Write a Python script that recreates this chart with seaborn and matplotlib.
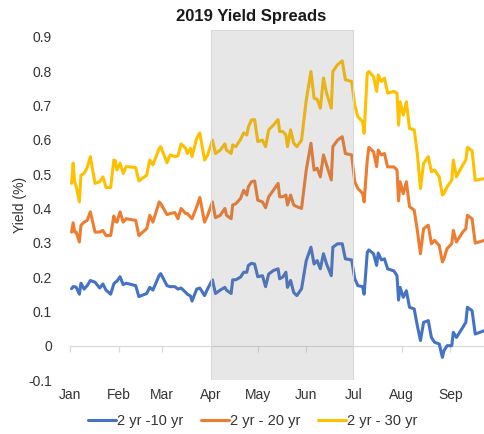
import matplotlib
matplotlib.use("Agg")
import matplotlib.pyplot as plt
import matplotlib.dates as mdates
from matplotlib.ticker import FuncFormatter
import pandas as pd
import seaborn as sns

# ---------------- data ----------------
dates = [
    "01-02", "01-03", "01-04", "01-05", "01-07", "01-08", "01-10", "01-12", "01-14", "01-17",
    "01-20", "01-22", "01-24", "01-27", "01-29", "01-30", "01-31", "02-02", "02-04", "02-06",
    "02-12", "02-14", "02-19", "02-21", "02-23", "02-27", "02-28", "03-04", "03-06", "03-09",
    "03-11", "03-13", "03-16", "03-17", "03-19", "03-20", "03-23", "03-25",
    "03-28", "03-30", "04-02", "04-04", "04-07", "04-10", "04-11", "04-14", "04-15", "04-17",
    "04-20", "04-22", "04-24", "04-25", "04-27", "04-29", "05-01", "05-04", "05-06", "05-08",
    "05-11", "05-14", "05-15", "05-17", "05-19", "05-20", "05-22", "05-24", "05-26", "05-29",
    "06-01", "06-04", "06-06", "06-08", "06-10", "06-12", "06-14", "06-17", "06-18", "06-21",
    "06-24",
    "06-26", "06-30", "07-02", "07-04", "07-07", "07-08", "07-10", "07-11", "07-14", "07-16",
    "07-17", "07-19",
    "07-21", "07-23", "07-27", "07-29", "07-30", "07-31", "08-02", "08-04", "08-06", "08-09",
    "08-11", "08-13", "08-15", "08-18", "08-20", "08-22", "08-25", "08-27", "08-28", "08-30",
    "09-02", "09-03", "09-05", "09-09", "09-11", "09-12", "09-15", "09-17", "09-23",
]

spread_2_10 = [
    0.166, 0.172, 0.172, 0.170, 0.150, 0.182, 0.165, 0.175, 0.190, 0.185,
    0.168, 0.180, 0.162, 0.150, 0.180, 0.185, 0.188, 0.201, 0.178, 0.182,
    0.175, 0.143, 0.152, 0.170, 0.162, 0.205, 0.210, 0.175, 0.172, 0.172,
    0.165, 0.168, 0.155, 0.150, 0.145, 0.130, 0.165, 0.168,
    0.146, 0.166, 0.192, 0.152, 0.162, 0.170, 0.162, 0.152, 0.192, 0.192,
    0.200, 0.214, 0.214, 0.234, 0.240, 0.238, 0.201, 0.204, 0.172, 0.209,
    0.219, 0.224, 0.195, 0.200, 0.214, 0.170, 0.190, 0.155, 0.146, 0.166,
    0.248, 0.287, 0.238, 0.248, 0.224, 0.268, 0.238, 0.204, 0.287, 0.297,
    0.297,
    0.253, 0.250, 0.195, 0.175, 0.172, 0.150, 0.272, 0.279, 0.268, 0.234,
    0.270, 0.250,
    0.253, 0.224, 0.218, 0.204, 0.133, 0.170, 0.141, 0.160, 0.112, 0.107,
    0.058, 0.015, 0.068, 0.073, 0.024, 0.010, 0.005, -0.034, -0.015, 0.000,
    0.000, 0.039, 0.024, 0.053, 0.068, 0.112, 0.102, 0.034, 0.044,
]

spread_2_20 = [
    0.331, 0.358, 0.331, 0.331, 0.302, 0.351, 0.360, 0.365, 0.390, 0.331,
    0.331, 0.336, 0.321, 0.321, 0.378, 0.363, 0.360, 0.390, 0.360, 0.370,
    0.365, 0.321, 0.341, 0.380, 0.360, 0.419, 0.414, 0.382, 0.385, 0.388,
    0.370, 0.400, 0.385, 0.385, 0.375, 0.370, 0.405, 0.432,
    0.360, 0.380, 0.419, 0.373, 0.380, 0.400, 0.380, 0.370, 0.410, 0.414,
    0.429, 0.453, 0.439, 0.463, 0.478, 0.480, 0.424, 0.419, 0.402, 0.434,
    0.453, 0.473, 0.434, 0.434, 0.439, 0.410, 0.439, 0.410, 0.405, 0.400,
    0.512, 0.590, 0.512, 0.517, 0.492, 0.556, 0.527, 0.483, 0.580, 0.599,
    0.609,
    0.560, 0.556, 0.478, 0.458, 0.444, 0.419, 0.541, 0.578, 0.565, 0.522,
    0.570, 0.556,
    0.560, 0.521, 0.521, 0.512, 0.422, 0.478, 0.443, 0.478, 0.405, 0.395,
    0.336, 0.268, 0.341, 0.351, 0.297, 0.307, 0.292, 0.244, 0.253, 0.283,
    0.297, 0.336, 0.302, 0.331, 0.341, 0.380, 0.370, 0.299, 0.307,
]

spread_2_30 = [
    0.473, 0.532, 0.478, 0.463, 0.419, 0.497, 0.502, 0.519, 0.551, 0.473,
    0.478, 0.492, 0.461, 0.461, 0.541, 0.539, 0.512, 0.532, 0.502, 0.522,
    0.519, 0.480, 0.497, 0.541, 0.527, 0.575, 0.580, 0.533, 0.556, 0.551,
    0.553, 0.588, 0.575, 0.560, 0.575, 0.551, 0.605, 0.620,
    0.541, 0.556, 0.599, 0.560, 0.570, 0.588, 0.570, 0.560, 0.585, 0.580,
    0.601, 0.620, 0.614, 0.637, 0.658, 0.659, 0.595, 0.599, 0.580, 0.629,
    0.643, 0.659, 0.624, 0.624, 0.614, 0.580, 0.629, 0.590, 0.580, 0.599,
    0.716, 0.799, 0.721, 0.718, 0.692, 0.780, 0.736, 0.692, 0.799, 0.819,
    0.830,
    0.775, 0.770, 0.702, 0.667, 0.653, 0.619, 0.794, 0.799, 0.784, 0.741,
    0.789, 0.770,
    0.780, 0.736, 0.741, 0.736, 0.643, 0.711, 0.672, 0.711, 0.633, 0.629,
    0.560, 0.458, 0.531, 0.551, 0.507, 0.512, 0.492, 0.439, 0.443, 0.463,
    0.482, 0.541, 0.492, 0.526, 0.541, 0.578, 0.568, 0.482, 0.487,
]

series_names = ["2 yr -10 yr", "2 yr - 20 yr", "2 yr - 30 yr"]
colors = ["#4472C4", "#ED7D31", "#FFC000"]
shade_start, shade_end = "2019-04-01", "2019-07-01"
y_ticks = [-0.1, 0, 0.1, 0.2, 0.3, 0.4, 0.5, 0.6, 0.7, 0.8, 0.9]

# ---------------- build table ----------------
df = pd.DataFrame({
    "date": pd.to_datetime(["2019-" + d for d in dates]),
    series_names[0]: spread_2_10,
    series_names[1]: spread_2_20,
    series_names[2]: spread_2_30,
})
long = df.melt(id_vars="date", var_name="series", value_name="yield")

# ---------------- style ----------------
sns.set_theme(style="white")
plt.rcParams["font.family"] = ["Liberation Sans", "DejaVu Sans"]
text_col = "#333333"

fig = plt.figure(figsize=(4.85, 4.34), dpi=100)
ax = fig.add_axes([70 / 485, 1 - 380 / 434, 1 - 70 / 485, 350 / 434])

sns.lineplot(data=long, x="date", y="yield", hue="series", hue_order=series_names,
             palette=colors, linewidth=2.2, ax=ax, zorder=2)
handles, labels = ax.get_legend_handles_labels()
ax.get_legend().remove()

ax.axvspan(pd.Timestamp(shade_start), pd.Timestamp(shade_end),
           facecolor=(0.5, 0.5, 0.5, 0.19), edgecolor=(0.85, 0.85, 0.85, 1.0),
           linewidth=0.8, zorder=3)

ax.set_xlim(pd.Timestamp("2019-01-01"), pd.Timestamp("2019-09-23 06:00"))
ax.set_ylim(-0.1, 0.92)

# y axis
ax.set_yticks(y_ticks)
ax.yaxis.set_major_formatter(FuncFormatter(lambda v, p: f"{round(v, 3):g}"))
ax.tick_params(axis="y", length=0, pad=13, labelsize=10, labelcolor=text_col)
ax.set_ylabel("Yield (%)", fontsize=10, color=text_col, labelpad=1)
ax.set_xlabel("")

for s in ["left", "right", "top"]:
    ax.spines[s].set_visible(False)

# horizontal axis line at zero with month tick marks
ax.spines["bottom"].set_position(("data", 0))
ax.spines["bottom"].set_color("#D9D9D9")
ax.spines["bottom"].set_linewidth(0.9)
ax.spines["bottom"].set_zorder(1)
ax.xaxis.set_major_locator(mdates.MonthLocator())
ax.tick_params(axis="x", direction="out", length=4, width=0.9, color="#D9D9D9",
               labelbottom=False, bottom=True)

# month labels at the bottom of the plot area
sec = ax.secondary_xaxis("bottom")
sec.xaxis.set_major_locator(mdates.MonthLocator())
sec.xaxis.set_major_formatter(mdates.DateFormatter("%b"))
sec.spines["bottom"].set_visible(False)
sec.tick_params(axis="x", length=0, pad=6, labelsize=10, labelcolor=text_col)

fig.suptitle("2019 Yield Spreads", x=251 / 485, y=1 - 16 / 434, va="center",
             fontsize=12, fontweight="bold", color="#1a1a1a")

fig.legend(handles, labels, loc="center", bbox_to_anchor=(253 / 485, 1 - 421 / 434),
           ncol=3, frameon=False, fontsize=10.5, handlelength=1.9, handletextpad=0.1,
           columnspacing=1.2, labelcolor=text_col)

fig.savefig("out.png", dpi=100)
